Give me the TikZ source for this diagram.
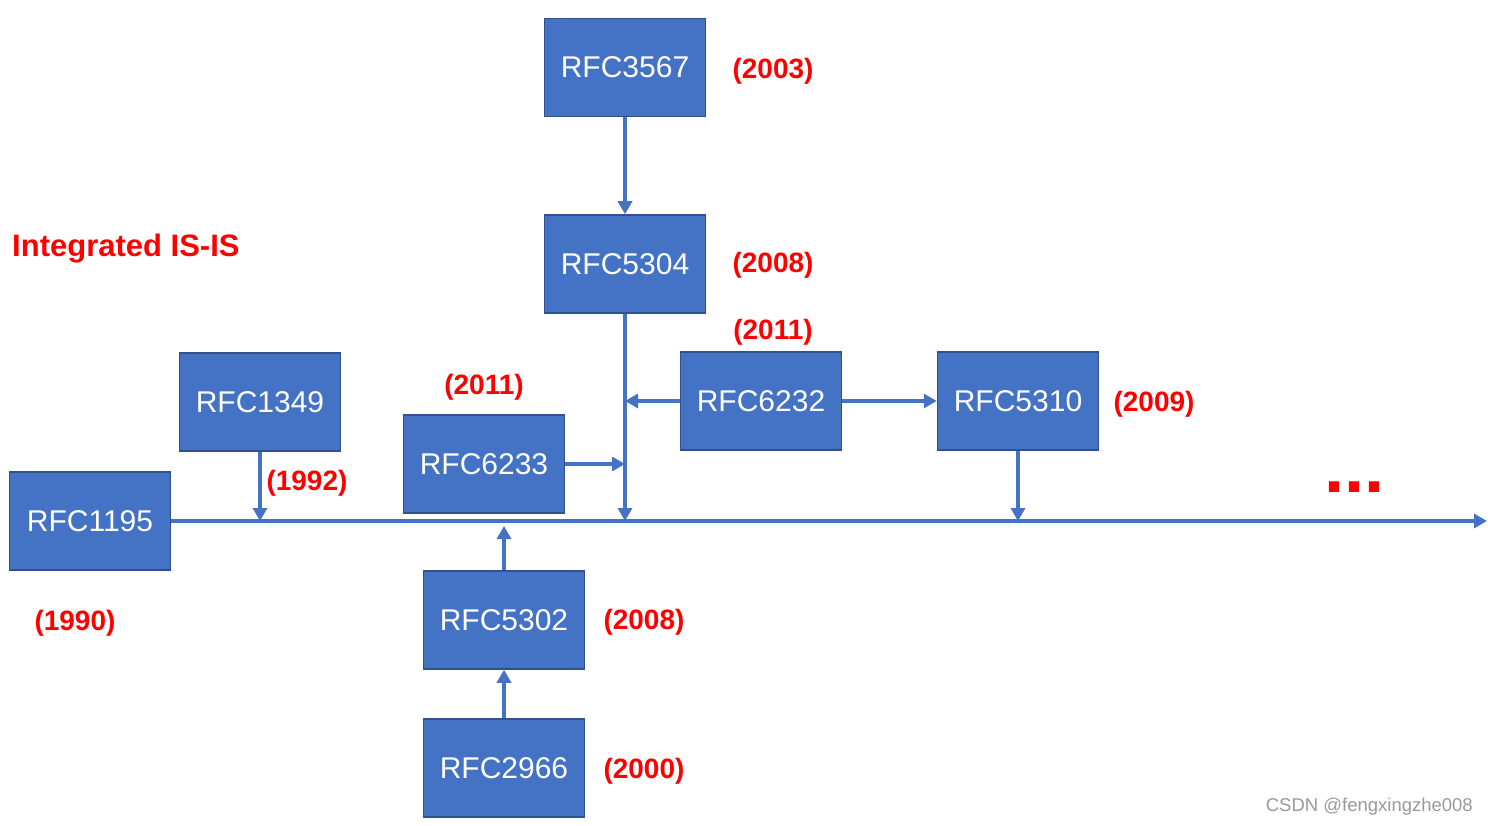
\documentclass[tikz,border=0pt]{standalone}
\usepackage{fontspec}
\setmainfont{Liberation Sans}
\usetikzlibrary{arrows.meta}
\definecolor{boxblue}{HTML}{4472C4}
\definecolor{boxedge}{HTML}{2F528F}
\definecolor{yearred}{HTML}{FF0000}
\tikzset{
  rfcbox/.style={draw=boxedge, line width=1.5pt, fill=boxblue, text=white,
    minimum width=161pt, minimum height=98pt, inner sep=0pt,
    font=\fontsize{30}{36}\selectfont},
  yearlabel/.style={text=yearred, inner sep=0pt, font=\bfseries\fontsize{28}{34}\selectfont},
  link/.style={draw=boxblue, line width=4.5pt, -{Triangle[length=13pt,width=14pt]}},
}
\begin{document}
\begin{tikzpicture}[x=1pt,y=-1pt]
\useasboundingbox (0,0) rectangle (1488,826);
\node[rfcbox] (rfc3567) at (625,67.5) {RFC3567};
\node[rfcbox] (rfc5304) at (625,264) {RFC5304};
\node[rfcbox] (rfc6232) at (761,401) {RFC6232};
\node[rfcbox] (rfc5310) at (1018,401) {RFC5310};
\node[rfcbox] (rfc1349) at (260,402) {RFC1349};
\node[rfcbox] (rfc1195) at (90,521) {RFC1195};
\node[rfcbox] (rfc6233) at (484,464) {RFC6233};
\node[rfcbox] (rfc5302) at (504,620) {RFC5302};
\node[rfcbox] (rfc2966) at (504,768) {RFC2966};

\node[yearlabel] (y3567) at (773,71) {(2003)};
\node[yearlabel] (y5304) at (773,265) {(2008)};
\node[yearlabel] (y6232) at (773,332) {(2011)};
\node[yearlabel] (y6233) at (484,387) {(2011)};
\node[yearlabel] (y5310) at (1154,404) {(2009)};
\node[yearlabel] (y1349) at (307,483) {(1992)};
\node[yearlabel] (y1195) at (75,623) {(1990)};
\node[yearlabel] (y5302) at (644,622) {(2008)};
\node[yearlabel] (y2966) at (644,771) {(2000)};
\node[yearlabel, anchor=west, font=\bfseries\fontsize{31}{36}\selectfont] (title) at (12,249) {Integrated IS-IS};
\node[text=yearred, inner sep=0pt, anchor=base west, font=\bfseries\fontsize{72}{80}\selectfont] (more) at (1324,492) {...};
\node[text=black!40, inner sep=0pt, anchor=east, font=\fontsize{18.5}{22}\selectfont] (mark) at (1473,807) {CSDN @fengxingzhe008};

\coordinate (tend) at (1487,521);
\draw[link] (rfc1195.east) -- (tend);
\draw[link] (rfc3567) -- (rfc5304);
\draw[link] (rfc5304.south) -- (rfc5304.south |- tend);
\draw[link] (rfc6233.east) -- (rfc6233.east -| rfc5304.south);
\draw[link] (rfc6232.west) -- (rfc6232.west -| rfc5304.south);
\draw[link] (rfc6232) -- (rfc5310);
\draw[link] (rfc5310.south) -- (rfc5310.south |- tend);
\draw[link] (rfc1349.south) -- (rfc1349.south |- tend);
\draw[link, shorten >=5pt] (rfc5302.north) -- (rfc5302.north |- tend);
\draw[link] (rfc2966) -- (rfc5302);
\end{tikzpicture}
\end{document}
